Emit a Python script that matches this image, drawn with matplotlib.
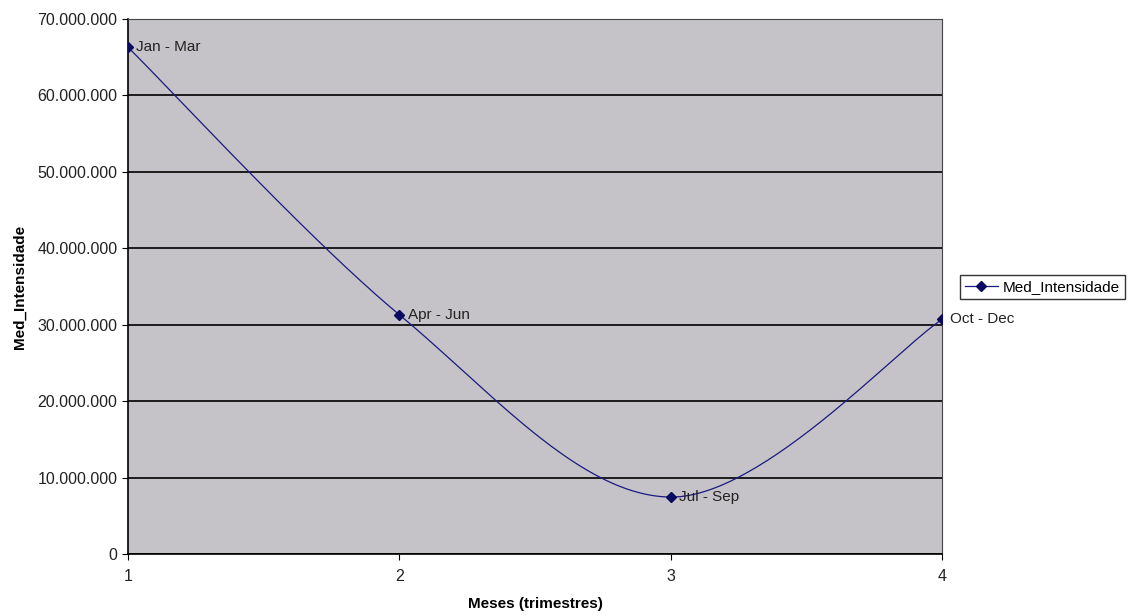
import numpy as np
import matplotlib
matplotlib.use("Agg")
import matplotlib.pyplot as plt
from matplotlib.ticker import FuncFormatter

plt.rcParams['font.family'] = ['Liberation Sans', 'DejaVu Sans']

trimestres = [1, 2, 3, 4]
intensidade = [66300000, 31300000, 7450000, 30700000]
rotulos = ["Jan - Mar", "Apr - Jun", "Jul - Sep", "Oct - Dec"]


def excel_smooth(x, y, n=60):
    """Bezier smoothing similar to Excel's smoothed line (Catmull-Rom style)."""
    x = np.asarray(x, float)
    y = np.asarray(y, float)
    px = np.concatenate([[x[0]], x, [x[-1]]])
    py = np.concatenate([[y[0]], y, [y[-1]]])
    xs, ys = [], []
    t = np.linspace(0, 1, n)
    for i in range(len(x) - 1):
        p0 = np.array([px[i + 1], py[i + 1]])
        p3 = np.array([px[i + 2], py[i + 2]])
        c1 = p0 + (np.array([px[i + 2], py[i + 2]]) - np.array([px[i], py[i]])) / 6
        c2 = p3 - (np.array([px[i + 3], py[i + 3]]) - np.array([px[i + 1], py[i + 1]])) / 6
        b = ((1 - t) ** 3)[:, None] * p0 + (3 * (1 - t) ** 2 * t)[:, None] * c1 \
            + (3 * (1 - t) * t ** 2)[:, None] * c2 + (t ** 3)[:, None] * p3
        xs.extend(b[:, 0])
        ys.extend(b[:, 1])
    return np.array(xs), np.array(ys)


fig = plt.figure(figsize=(11.31, 6.15), dpi=100)
ax = fig.add_axes([0.1132, 0.0992, 0.7198, 0.8699])
ax.set_facecolor('#c5c3c7')

sx, sy = excel_smooth(trimestres, intensidade)
ax.plot(sx, sy, color='#1a1a80', lw=0.9, zorder=3)
ax.plot(trimestres, intensidade, ls='none', marker='D', ms=5,
        color='#0a0a60', zorder=4)
# legend proxy
ax.plot([], [], color='#1a1a80', lw=0.9, marker='D', ms=5,
        markerfacecolor='#0a0a60', markeredgecolor='#0a0a60',
        label='Med_Intensidade')

for xv, yv, lab in zip(trimestres, intensidade, rotulos):
    ax.annotate(lab, (xv, yv), xytext=(6, 0), textcoords='offset points',
                va='center', ha='left', fontsize=11, color='#222222', zorder=5)

ax.set_xlim(1, 4)
ax.set_ylim(0, 70000000)
ax.set_xticks(trimestres)
ax.set_yticks(np.arange(0, 70000001, 10000000))
ax.yaxis.set_major_formatter(
    FuncFormatter(lambda v, p: f"{int(v):,}".replace(",", ".")))
ax.yaxis.grid(True, color='black', lw=1.2)
ax.set_axisbelow(True)
ax.tick_params(axis='both', direction='out', length=4, labelsize=11.5,
               colors='black', labelcolor='#222222')
ax.tick_params(axis='x', pad=7)
for s in ax.spines.values():
    s.set_color('#444444')
ax.spines['left'].set_color('black')
ax.spines['bottom'].set_color('black')
ax.spines['left'].set_linewidth(1.2)
ax.spines['bottom'].set_linewidth(1.2)

ax.set_xlabel('Meses (trimestres)', fontsize=11, fontweight='bold', labelpad=9)
ax.set_ylabel('Med_Intensidade', fontsize=11, fontweight='bold', labelpad=8)

leg = ax.legend(loc='center left', bbox_to_anchor=(1.022, 0.499), fontsize=11,
                frameon=True, fancybox=False, borderpad=0.3, handlelength=2.2,
                handletextpad=0.3, borderaxespad=0)
leg.get_frame().set_edgecolor('black')
leg.get_frame().set_linewidth(1.0)

fig.savefig('out.png', dpi=100, facecolor='white')
